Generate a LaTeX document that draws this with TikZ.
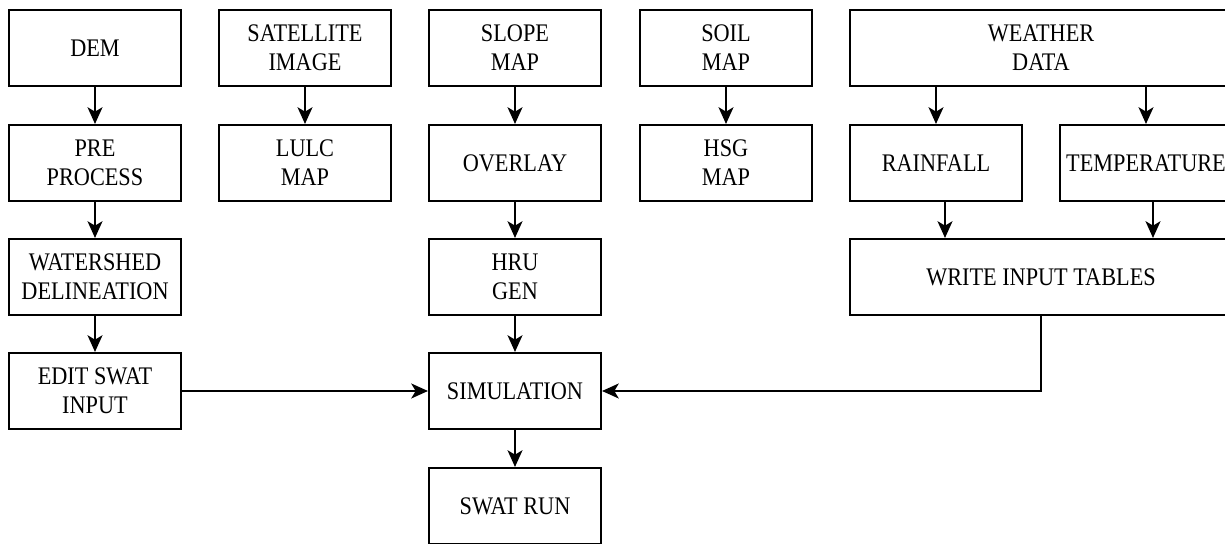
\documentclass[tikz,border=0pt]{standalone}
\usepackage{fontspec}
\setmainfont{Liberation Serif}[FakeStretch=0.88]
\usetikzlibrary{arrows.meta}
\begin{document}
\begin{tikzpicture}[x=0.02cm, y=-0.02cm,
  box/.style={draw, line width=1.2pt, minimum width=3.44cm, minimum height=1.52cm,
    align=center, inner sep=0pt, font=\fontsize{14.4}{16.5}\selectfont},
  wide/.style={box, minimum width=7.64cm},
  arr/.style={-{Stealth[length=9.5pt,width=8.5pt,inset=2.5pt]}, line width=1.2pt}]
\useasboundingbox (0,0) rectangle (1225,544);
\node (dem) at (95,48) [box] {DEM};
\node (sat) at (305,48) [box] {SATELLITE\\IMAGE};
\node (slope) at (515,48) [box] {SLOPE\\MAP};
\node (soil) at (726,48) [box] {SOIL\\MAP};
\node (weather) at (1041,48) [wide] {WEATHER\\DATA};
\node (pre) at (95,163) [box] {PRE\\PROCESS};
\node (lulc) at (305,163) [box] {LULC\\MAP};
\node (overlay) at (515,163) [box] {OVERLAY};
\node (hsg) at (726,163) [box] {HSG\\MAP};
\node (rain) at (936,163) [box] {RAINFALL};
\node (temp) at (1146,163) [box] {TEMPERATURE};
\node (shed) at (95,277) [box] {WATERSHED\\DELINEATION};
\node (hru) at (515,277) [box] {HRU\\GEN};
\node (write) at (1041,277) [wide] {WRITE INPUT TABLES};
\node (edit) at (95,391) [box] {EDIT SWAT\\INPUT};
\node (sim) at (515,391) [box] {SIMULATION};
\node (run) at (515,506) [box] {SWAT RUN};
\draw[arr] (dem) -- (pre);
\draw[arr] (pre) -- (shed);
\draw[arr] (shed) -- (edit);
\draw[arr] (sat) -- (lulc);
\draw[arr] (slope) -- (overlay);
\draw[arr] (overlay) -- (hru);
\draw[arr] (hru) -- (sim);
\draw[arr] (sim) -- (run);
\draw[arr] (soil) -- (hsg);
\draw[arr] (weather.south -| rain) -- (rain);
\draw[arr] (weather.south -| temp) -- (temp);
\draw[arr] ([xshift=0.18cm]rain.south) -- ([xshift=0.18cm]rain.south |- write.north);
\draw[arr] ([xshift=0.14cm]temp.south) -- ([xshift=0.14cm]temp.south |- write.north);
\draw[arr] (edit) -- (sim);
\draw[arr] (write.south) |- (sim.east);
\end{tikzpicture}
\end{document}
